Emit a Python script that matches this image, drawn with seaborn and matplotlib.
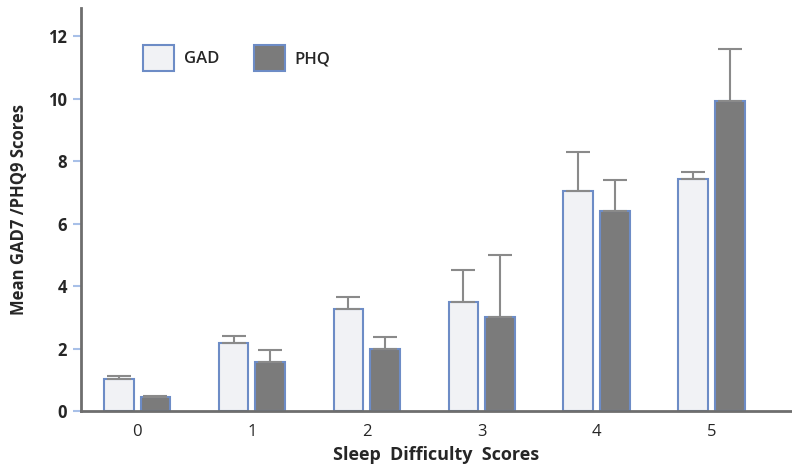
import numpy as np
import pandas as pd
import matplotlib.pyplot as plt
import seaborn as sns

# Values (mean and top of the error bar)
scores = ['0', '1', '2', '3', '4', '5']
gad_mean = [1.04, 2.17, 3.26, 3.49, 7.04, 7.42]
gad_upper = [1.12, 2.39, 3.66, 4.50, 8.30, 7.64]
phq_mean = [0.46, 1.58, 1.99, 3.00, 6.40, 9.92]
phq_upper = [0.48, 1.97, 2.37, 4.99, 7.39, 11.58]

df = pd.DataFrame({
    'score': scores * 2,
    'mean': gad_mean + phq_mean,
    'group': ['GAD'] * len(scores) + ['PHQ'] * len(scores),
})

sns.set_style('white')
plt.rcParams['font.family'] = ['Open Sans', 'DejaVu Sans']

fig = plt.figure(figsize=(7.92, 4.72), dpi=100)
ax = fig.add_axes([0.102, 0.129, 0.898, 0.854])

sns.barplot(data=df, x='score', y='mean', hue='group',
            palette={'GAD': '#f0f2f6', 'PHQ': '#7b7b7b'},
            width=0.64, gap=0.19, linewidth=1.5, edgecolor='#6d8cc6',
            errorbar=None, ax=ax)

# one-sided error bars
for cont, mean, upper in zip(ax.containers, [gad_mean, phq_mean], [gad_upper, phq_upper]):
    xs = [b.get_x() + b.get_width() / 2 for b in cont]
    err = np.array(upper) - np.array(mean)
    ax.errorbar(xs, mean, yerr=[np.zeros(len(err)), err], fmt='none',
                ecolor='#8a8a8a', elinewidth=1.5, capsize=8.5, capthick=1.5, zorder=1)

ax.set_xlim(-0.49, 5.7)
ax.set_ylim(0, 12.9)
ax.set_yticks([0, 2, 4, 6, 8, 10, 12])

sns.despine(ax=ax)
for s in ['left', 'bottom']:
    ax.spines[s].set_color('#6e6e6e')
    ax.spines[s].set_linewidth(2)

ax.tick_params(axis='y', left=True, length=6, width=1.5, color='#a8c0e8', labelsize=12, pad=4)
ax.tick_params(axis='x', bottom=False, labelsize=12, pad=6)
for lbl in ax.get_yticklabels():
    lbl.set_fontweight('bold')

ax.set_xlabel('Sleep  Difficulty  Scores', fontsize=13, fontweight='bold', labelpad=4)
ax.set_ylabel('Mean GAD7 /PHQ9 Scores', fontsize=12, fontweight='bold', labelpad=14)

leg = ax.legend(loc='upper left', bbox_to_anchor=(0.066, 0.945), ncol=2, frameon=False,
                handlelength=1.85, handleheight=2.0, handletextpad=0.6,
                columnspacing=2.1, fontsize=12, title=None)
for h in leg.legend_handles:
    h.set_edgecolor('#6d8cc6')
    h.set_linewidth(1.5)
for t in leg.get_texts():
    t.set_fontweight('semibold')

fig.savefig('out.png', dpi=100)
